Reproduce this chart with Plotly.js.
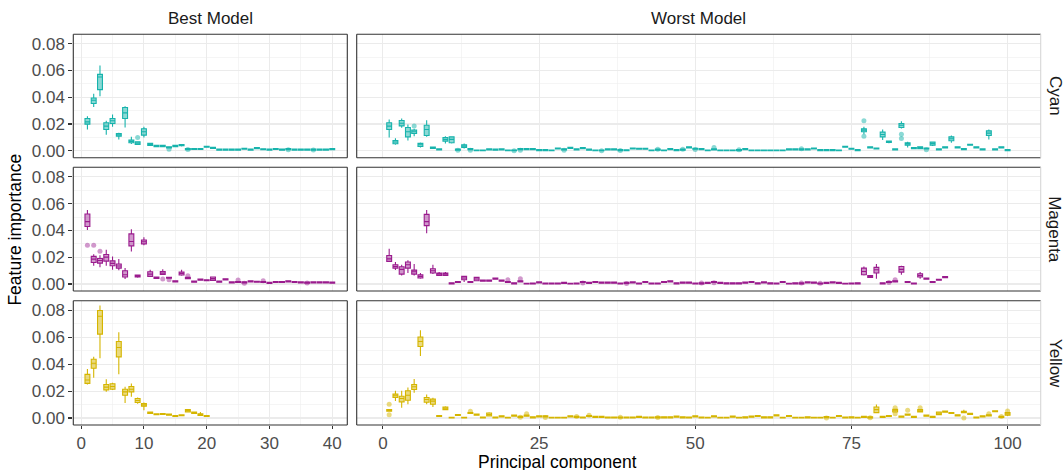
<!DOCTYPE html>
<html>
<head>
<meta charset="utf-8">
<script src="https://cdn.plot.ly/plotly-3.0.1.min.js"></script>
<style>html,body{margin:0;padding:0;background:#fff;}#chart{width:1064px;height:471px;}</style>
</head>
<body>
<div id="chart"></div>
<script>
// ---------------- DATA ----------------
// Box statistics per principal component (position = index + 1)
// Best model, Cyan (PC 1..40)
const cyanBestMed = [.0216,.0378,.0552,.0184,.0224,.0119,.0283,.0070,.0057,.0142,.0047,.0035,.0035,.0025,.0035,.0042,.0012,.0013,.0013,.0030,.0022,.0008,.0008,.0008,.0008,.0015,.0009,.0019,.0011,.0009,.0013,.0008,.0012,.0009,.0009,.0009,.0008,.0009,.0009,.0012];
const cyanBestQ1  = [.0199,.0353,.0457,.0159,.0204,.0109,.0241,.0060,.0047,.0117,.0040,.0031,.0031,.0021,.0031,.0037,.0008,.0009,.0009,.0026,.0018,.0004,.0004,.0004,.0004,.0011,.0005,.0015,.0007,.0005,.0009,.0004,.0008,.0005,.0005,.0005,.0004,.0005,.0005,.0008];
const cyanBestQ3  = [.0241,.0395,.0571,.0209,.0241,.0129,.0323,.0080,.0067,.0164,.0055,.0040,.0040,.0030,.0040,.0047,.0016,.0017,.0017,.0034,.0026,.0012,.0012,.0012,.0012,.0019,.0013,.0023,.0015,.0013,.0017,.0012,.0016,.0013,.0013,.0013,.0012,.0013,.0013,.0016];
const cyanBestWhiskPC = [1,2,3,4,5,6,7,8,9,10,11,16];
const cyanBestLo  = [.0159,.0328,.0407,.0119,.0179,.0084,.0174,.0050,.0045,.0099,.0037,.0032];
const cyanBestHi  = [.0258,.0427,.0638,.0224,.0271,.0134,.0333,.0104,.0070,.0179,.0060,.0050];
const cyanBestOutPC = [9,14,17,33,37];
const cyanBestOutVal = [.0099,.0012,.0010,.0008,.0006];

// Best model, Magenta (PC 1..40)
const magBestMed = [.0466,.0186,.0176,.0201,.0154,.0134,.0069,.0317,.0059,.0315,.0074,.0047,.0082,.0047,.0020,.0079,.0045,.0018,.0033,.0028,.0040,.0018,.0035,.0012,.0015,.0012,.0020,.0017,.0015,.0008,.0015,.0015,.0020,.0015,.0012,.0010,.0012,.0012,.0012,.0010];
const magBestQ1  = [.0429,.0161,.0156,.0171,.0136,.0119,.0052,.0285,.0052,.0300,.0057,.0042,.0072,.0043,.0016,.0067,.0039,.0014,.0029,.0024,.0027,.0014,.0031,.0008,.0011,.0008,.0016,.0013,.0011,.0004,.0011,.0011,.0016,.0011,.0008,.0006,.0008,.0008,.0008,.0006];
const magBestQ3  = [.0523,.0206,.0191,.0220,.0173,.0149,.0099,.0374,.0067,.0329,.0092,.0052,.0094,.0051,.0024,.0089,.0050,.0022,.0037,.0032,.0052,.0022,.0039,.0016,.0019,.0016,.0024,.0021,.0019,.0012,.0019,.0019,.0024,.0019,.0016,.0014,.0016,.0016,.0016,.0014];
const magBestWhiskPC = [1,2,3,4,5,6,7,8,9,10,11,13,16,21];
const magBestLo  = [.0404,.0136,.0126,.0136,.0107,.0102,.0037,.0243,.0047,.0290,.0052,.0069,.0062,.0022];
const magBestHi  = [.0552,.0223,.0215,.0255,.0206,.0186,.0119,.0409,.0072,.0349,.0107,.0111,.0107,.0057];
const magBestOutPC = [1,2,3,13,14,17,25,26,29,36];
const magBestOutVal = [.0290,.0290,.0245,.0037,.0032,.0062,.0030,.0006,.0024,.0007];

// Best model, Yellow (PC 1..20)
const yelBestMed = [.0282,.0406,.0755,.0229,.0234,.0523,.0194,.0214,.0130,.0097,.0039,.0028,.0030,.0025,.0015,.0020,.0055,.0040,.0025,.0015];
const yelBestQ1  = [.0257,.0369,.0623,.0209,.0214,.0454,.0169,.0194,.0115,.0087,.0033,.0025,.0027,.0021,.0012,.0017,.0045,.0034,.0018,.0012];
const yelBestQ3  = [.0324,.0436,.0798,.0249,.0254,.0568,.0214,.0234,.0145,.0107,.0045,.0031,.0033,.0029,.0018,.0023,.0062,.0045,.0032,.0018];
const yelBestWhiskPC = [1,2,3,4,5,6,7,8,9,10,19];
const yelBestLo  = [.0249,.0299,.0444,.0194,.0207,.0324,.0112,.0157,.0105,.0057,.0015];
const yelBestHi  = [.0364,.0454,.0835,.0287,.0262,.0636,.0232,.0257,.0152,.0115,.0045];
const yelBestOutPC = [];
const yelBestOutVal = [];

// Worst model, Cyan (PC 1..100)
const cyanWorstMed = [.0184,.0065,.0206,.0142,.0142,.0045,.0159,.0022,.0010,.0085,
 .0085,.0008,.0035,.0012,.0002,.0002,.0010,.0008,.0010,.0002,
 .0002,.0012,.0012,.0012,.0005,.0005,.0002,.0017,.0010,.0022,
 .0010,.0020,.0008,.0002,.0002,.0010,.0010,.0005,.0003,.0017,
 .0015,.0015,.0002,.0008,.0002,.0012,.0005,.0008,.0025,.0015,
 .0012,.0002,.0010,.0002,.0002,.0002,.0005,.0012,.0002,.0002,
 .0002,.0002,.0002,.0002,.0010,.0010,.0010,.0010,.0017,.0005,
 .0005,.0005,.0002,.0030,.0015,.0005,.0154,.0025,.0017,.0122,
 .0067,.0010,.0191,.0055,.0020,.0025,.0017,.0055,.0010,.0025,
 .0090,.0025,.0012,.0045,.0025,.0010,.0132,.0010,.0025,.0005];
const cyanWorstQ1 = [.0159,.0052,.0186,.0104,.0129,.0032,.0114,.0017,.0006,.0072,
 .0060,.0004,.0025,.0008,.0000,.0000,.0006,.0004,.0006,.0000,
 .0000,.0008,.0008,.0008,.0001,.0001,.0000,.0013,.0006,.0018,
 .0006,.0016,.0004,.0000,.0000,.0006,.0006,.0001,.0000,.0013,
 .0011,.0011,.0000,.0004,.0000,.0008,.0001,.0004,.0021,.0011,
 .0008,.0000,.0006,.0000,.0000,.0000,.0001,.0008,.0000,.0000,
 .0000,.0000,.0000,.0000,.0006,.0006,.0006,.0006,.0013,.0001,
 .0001,.0001,.0000,.0026,.0011,.0001,.0142,.0021,.0013,.0104,
 .0062,.0006,.0174,.0042,.0016,.0015,.0013,.0042,.0006,.0021,
 .0075,.0021,.0008,.0041,.0021,.0006,.0114,.0006,.0021,.0001];
const cyanWorstQ3 = [.0209,.0077,.0226,.0174,.0154,.0055,.0191,.0027,.0014,.0099,
 .0104,.0012,.0045,.0016,.0006,.0006,.0014,.0012,.0014,.0006,
 .0006,.0016,.0016,.0016,.0009,.0009,.0006,.0021,.0014,.0026,
 .0014,.0024,.0012,.0006,.0006,.0014,.0014,.0009,.0007,.0021,
 .0019,.0019,.0006,.0012,.0006,.0016,.0009,.0012,.0029,.0019,
 .0016,.0006,.0014,.0006,.0006,.0006,.0009,.0016,.0006,.0006,
 .0006,.0006,.0006,.0006,.0014,.0014,.0014,.0014,.0021,.0009,
 .0009,.0009,.0006,.0034,.0019,.0009,.0164,.0029,.0021,.0139,
 .0072,.0014,.0204,.0060,.0024,.0030,.0021,.0065,.0014,.0029,
 .0104,.0029,.0016,.0049,.0029,.0014,.0149,.0014,.0029,.0009];
const cyanWorstWhiskPC = [1,2,3,4,5,6,7,10,11,13,77,80,81,83,84,88,91,97];
const cyanWorstLo = [.0099,.0045,.0172,.0077,.0109,.0025,.0104,.0055,.0055,.0017,.0124,.0080,.0057,.0166,.0025,.0035,.0060,.0085];
const cyanWorstHi = [.0234,.0094,.0241,.0196,.0164,.0062,.0229,.0109,.0109,.0055,.0179,.0159,.0077,.0221,.0067,.0068,.0114,.0159];
const cyanWorstOutPC = [5,12,14,21,22,29,35,38,44,48,50,53,57,67,77,77,83,83,87];
const cyanWorstOutVal = [.0186,.0003,.0003,.0000,.0003,.0004,.0000,.0001,.0012,.0012,.0010,.0025,.0008,.0015,.0224,.0109,.0124,.0092,.0008];

// Worst model, Magenta (PC 1..90)
const magWorstMed = [.0188,.0131,.0109,.0144,.0092,.0057,.0466,.0099,.0074,.0074,
 .0005,.0015,.0045,.0015,.0037,.0025,.0025,.0040,.0025,.0015,
 .0005,.0020,.0001,.0003,.0012,.0003,.0003,.0003,.0008,.0001,
 .0003,.0015,.0008,.0015,.0010,.0010,.0010,.0003,.0008,.0012,
 .0003,.0015,.0003,.0003,.0015,.0020,.0005,.0010,.0010,.0003,
 .0005,.0008,.0015,.0008,.0005,.0005,.0005,.0010,.0015,.0005,
 .0012,.0005,.0003,.0015,.0001,.0005,.0005,.0012,.0010,.0003,
 .0008,.0012,.0008,.0001,.0003,.0005,.0094,.0057,.0107,.0005,
 .0015,.0020,.0109,.0015,.0003,.0064,.0040,.0015,.0032,.0052];
const magWorstQ1 = [.0169,.0119,.0074,.0119,.0074,.0045,.0436,.0082,.0064,.0064,
 .0001,.0011,.0032,.0011,.0025,.0021,.0021,.0036,.0021,.0011,
 .0001,.0016,.0000,.0000,.0008,.0000,.0000,.0000,.0004,.0000,
 .0000,.0011,.0004,.0011,.0006,.0006,.0006,.0000,.0004,.0008,
 .0000,.0011,.0000,.0000,.0011,.0016,.0001,.0006,.0006,.0000,
 .0001,.0004,.0011,.0004,.0001,.0001,.0001,.0006,.0011,.0001,
 .0008,.0001,.0000,.0011,.0000,.0001,.0001,.0008,.0006,.0000,
 .0004,.0008,.0004,.0000,.0000,.0001,.0069,.0050,.0082,.0001,
 .0011,.0016,.0089,.0011,.0000,.0052,.0036,.0011,.0028,.0048];
const magWorstQ3 = [.0213,.0144,.0129,.0164,.0104,.0069,.0520,.0114,.0082,.0082,
 .0009,.0019,.0057,.0019,.0050,.0029,.0029,.0044,.0029,.0019,
 .0009,.0024,.0005,.0007,.0016,.0007,.0007,.0007,.0012,.0005,
 .0007,.0019,.0012,.0019,.0014,.0014,.0014,.0007,.0012,.0016,
 .0007,.0019,.0007,.0007,.0019,.0024,.0009,.0014,.0014,.0007,
 .0009,.0012,.0019,.0012,.0009,.0009,.0009,.0014,.0019,.0009,
 .0016,.0009,.0007,.0019,.0005,.0009,.0009,.0016,.0014,.0007,
 .0012,.0016,.0012,.0005,.0007,.0009,.0119,.0064,.0124,.0009,
 .0019,.0024,.0131,.0019,.0007,.0077,.0044,.0019,.0036,.0056];
const magWorstWhiskPC = [1,2,3,4,5,6,7,8,9,10,13,15,77,78,79,83,86];
const magWorstLo = [.0164,.0104,.0064,.0082,.0064,.0040,.0379,.0074,.0060,.0060,.0015,.0022,.0064,.0045,.0040,.0069,.0040];
const magWorstHi = [.0263,.0164,.0144,.0178,.0149,.0082,.0553,.0144,.0089,.0089,.0062,.0052,.0131,.0066,.0149,.0136,.0089];
const magWorstOutPC = [20,22,32,39,51,53,67,70,81,82];
const magWorstOutVal = [.0032,.0040,.0008,.0004,.0008,.0010,.0008,.0005,.0012,.0032];

// Worst model, Yellow (PC 1..100)
const yelWorstMed = [.0057,.0165,.0145,.0169,.0232,.0568,.0137,.0125,.0015,.0072,
 .0002,.0022,.0002,.0037,.0025,.0003,.0025,.0003,.0012,.0002,
 .0017,.0008,.0017,.0005,.0012,.0012,.0002,.0002,.0002,.0012,
 .0008,.0003,.0015,.0008,.0008,.0003,.0003,.0003,.0003,.0003,
 .0008,.0003,.0003,.0005,.0005,.0005,.0010,.0005,.0003,.0012,
 .0003,.0002,.0012,.0002,.0002,.0010,.0002,.0005,.0010,.0015,
 .0005,.0005,.0020,.0002,.0015,.0002,.0002,.0005,.0002,.0002,
 .0007,.0002,.0015,.0003,.0005,.0002,.0008,.0005,.0062,.0008,
 .0015,.0057,.0010,.0025,.0008,.0052,.0017,.0008,.0035,.0047,
 .0037,.0020,.0045,.0030,.0003,.0012,.0020,.0050,.0008,.0030];
const yelWorstQ1 = [.0050,.0152,.0120,.0132,.0212,.0531,.0117,.0102,.0011,.0062,
 .0000,.0018,.0000,.0033,.0021,.0000,.0015,.0000,.0008,.0000,
 .0013,.0004,.0013,.0001,.0008,.0008,.0000,.0000,.0000,.0008,
 .0004,.0000,.0011,.0004,.0004,.0000,.0000,.0000,.0000,.0000,
 .0004,.0000,.0000,.0001,.0001,.0001,.0006,.0001,.0000,.0008,
 .0000,.0000,.0008,.0000,.0000,.0006,.0000,.0001,.0006,.0011,
 .0001,.0001,.0016,.0000,.0011,.0000,.0000,.0001,.0000,.0000,
 .0003,.0000,.0011,.0000,.0001,.0000,.0004,.0001,.0040,.0004,
 .0011,.0045,.0006,.0020,.0004,.0045,.0013,.0004,.0025,.0043,
 .0033,.0015,.0040,.0026,.0000,.0008,.0016,.0046,.0004,.0020];
const yelWorstQ3 = [.0062,.0177,.0162,.0202,.0249,.0601,.0152,.0140,.0019,.0082,
 .0006,.0026,.0006,.0041,.0029,.0007,.0037,.0007,.0016,.0006,
 .0021,.0012,.0021,.0009,.0016,.0016,.0006,.0006,.0006,.0016,
 .0012,.0007,.0019,.0012,.0012,.0007,.0007,.0007,.0007,.0007,
 .0012,.0007,.0007,.0009,.0009,.0009,.0014,.0009,.0007,.0016,
 .0007,.0006,.0016,.0006,.0006,.0014,.0006,.0009,.0014,.0019,
 .0009,.0009,.0024,.0006,.0019,.0006,.0006,.0009,.0006,.0006,
 .0011,.0006,.0019,.0007,.0009,.0006,.0012,.0009,.0082,.0012,
 .0019,.0065,.0014,.0030,.0012,.0062,.0021,.0012,.0045,.0051,
 .0041,.0024,.0050,.0034,.0007,.0016,.0024,.0054,.0012,.0040];
const yelWorstWhiskPC = [1,2,3,4,5,6,7,8,10,17,79,82,86,93,100];
const yelWorstLo = [.0048,.0127,.0077,.0102,.0187,.0461,.0102,.0082,.0057,.0012,.0037,.0040,.0040,.0035,.0015];
const yelWorstHi = [.0064,.0202,.0202,.0227,.0289,.0651,.0174,.0150,.0087,.0042,.0100,.0068,.0065,.0062,.0045];
const yelWorstOutPC = [1,1,14,22,23,26,31,33,38,44,71,78,82,82,84,86,93,97,99,100];
const yelWorstOutVal = [.0102,.0025,.0050,.0005,.0032,.0003,.0012,.0020,.0005,.0003,.0000,.0002,.0077,.0032,.0057,.0077,.0000,.0032,.0012,.0052];

const colLabels = ['Best Model', 'Worst Model'];
const rowLabels = ['Cyan', 'Magenta', 'Yellow'];
const yTicks = [0, 0.02, 0.04, 0.06, 0.08];
const xTicksBest = [0, 10, 20, 30, 40];
const xTicksWorst = [0, 25, 50, 75, 100];

// ---------------- STYLE ----------------
const COLORS = {
  Cyan:    {line: '#17B3AC', fill: 'rgba(23,179,172,0.5)', pt: 'rgba(23,179,172,0.5)'},
  Magenta: {line: '#9A1B8D', fill: 'rgba(154,27,141,0.45)', pt: 'rgba(154,27,141,0.45)'},
  Yellow:  {line: '#D5B500', fill: 'rgba(213,181,0,0.5)', pt: 'rgba(213,181,0,0.5)'}
};
const W = 1064, H = 471;
const colPx = [[73.3, 347.3], [356.7, 1040.7]];
const rowPx = [[34.3, 157.7], [167.3, 291.0], [300.7, 425.0]];
const xRanges = [[-1.25, 42.4], [-4.2, 105.3]];
const yRange = [-0.0052, 0.0871];
const FONT = 'Liberation Sans, Arial, Helvetica, sans-serif';

function boxTrace(med, q1, q3, wPC, wLo, wHi, xa, ya, c) {
  const x = med.map((_, i) => i + 1);
  const lo = q1.slice(), hi = q3.slice();
  wPC.forEach((p, j) => { lo[p - 1] = wLo[j]; hi[p - 1] = wHi[j]; });
  return {
    type: 'box', orientation: 'v', x: x, q1: q1, median: med, q3: q3,
    lowerfence: lo, upperfence: hi, xaxis: xa, yaxis: ya,
    width: 0.78, whiskerwidth: 0, boxpoints: false,
    line: {color: c.line, width: 1.1}, fillcolor: c.fill,
    hoverinfo: 'skip', showlegend: false
  };
}
function outTrace(px, vals, xa, ya, c) {
  return {type: 'scatter', mode: 'markers', x: px, y: vals, xaxis: xa, yaxis: ya,
    marker: {size: 5, color: c.pt, line: {width: 0}}, hoverinfo: 'skip', showlegend: false};
}

const panels = [
  // [row, col, med, q1, q3, wPC, wLo, wHi, outPC, outVal, colorName]
  [0, 0, cyanBestMed, cyanBestQ1, cyanBestQ3, cyanBestWhiskPC, cyanBestLo, cyanBestHi, cyanBestOutPC, cyanBestOutVal, 'Cyan'],
  [0, 1, cyanWorstMed, cyanWorstQ1, cyanWorstQ3, cyanWorstWhiskPC, cyanWorstLo, cyanWorstHi, cyanWorstOutPC, cyanWorstOutVal, 'Cyan'],
  [1, 0, magBestMed, magBestQ1, magBestQ3, magBestWhiskPC, magBestLo, magBestHi, magBestOutPC, magBestOutVal, 'Magenta'],
  [1, 1, magWorstMed, magWorstQ1, magWorstQ3, magWorstWhiskPC, magWorstLo, magWorstHi, magWorstOutPC, magWorstOutVal, 'Magenta'],
  [2, 0, yelBestMed, yelBestQ1, yelBestQ3, yelBestWhiskPC, yelBestLo, yelBestHi, yelBestOutPC, yelBestOutVal, 'Yellow'],
  [2, 1, yelWorstMed, yelWorstQ1, yelWorstQ3, yelWorstWhiskPC, yelWorstLo, yelWorstHi, yelWorstOutPC, yelWorstOutVal, 'Yellow']
];

const traces = [];
const layout = {
  width: W, height: H, margin: {l: 0, r: 0, t: 0, b: 0},
  paper_bgcolor: '#FFFFFF', plot_bgcolor: '#FFFFFF',
  font: {family: FONT, size: 17, color: '#4D4D4D'},
  showlegend: false, shapes: [], annotations: []
};
const fx = p => p / W, fy = p => 1 - p / H;

panels.forEach((p, i) => {
  const [r, c] = p;
  const n = i + 1;
  const xa = 'x' + (n === 1 ? '' : n), ya = 'y' + (n === 1 ? '' : n);
  const col = COLORS[p[10]];
  traces.push(outTrace(p[8], p[9], xa, ya, col));
  traces.push(boxTrace(p[2], p[3], p[4], p[5], p[6], p[7], xa, ya, col));
  const bottom = r === 2, left = c === 0;
  layout['xaxis' + (n === 1 ? '' : n)] = {
    domain: [fx(colPx[c][0]), fx(colPx[c][1])], range: xRanges[c], anchor: ya,
    tickvals: c === 0 ? xTicksBest : xTicksWorst, showticklabels: bottom,
    ticks: bottom ? 'outside' : '', ticklen: 3, tickwidth: 1.1, tickcolor: '#333333',
    tickfont: {size: 17, color: '#4D4D4D', family: FONT},
    showgrid: true, gridcolor: '#EBEBEB', gridwidth: 1.1, zeroline: false, showline: false,
    minor: {dtick: c === 0 ? 5 : 12.5, tick0: 0, showgrid: true, gridcolor: '#EFEFEF', gridwidth: 0.6, ticks: ''},
    fixedrange: true
  };
  layout['yaxis' + (n === 1 ? '' : n)] = {
    domain: [fy(rowPx[r][1]), fy(rowPx[r][0])], range: yRange, anchor: xa,
    tickvals: yTicks, tickformat: '.2f', showticklabels: left,
    ticks: left ? 'outside' : '', ticklen: 4, tickwidth: 1.1, tickcolor: '#333333',
    tickfont: {size: 17, color: '#4D4D4D', family: FONT},
    showgrid: true, gridcolor: '#EBEBEB', gridwidth: 1.1, zeroline: false, showline: false,
    minor: {dtick: 0.01, tick0: 0, showgrid: true, gridcolor: '#EFEFEF', gridwidth: 0.6, ticks: ''},
    fixedrange: true
  };
  // panel border
  const x0 = fx(colPx[c][0]), x1 = fx(colPx[c][1]);
  const y0 = fy(rowPx[r][1]), y1 = fy(rowPx[r][0]);
  const dark = {color: '#333333', width: 1.1};
  const seg = (a, b, cc, d, ln) => layout.shapes.push({type: 'line', xref: 'paper', yref: 'paper', x0: a, y0: b, x1: cc, y1: d, line: ln, layer: 'above'});
  seg(x0, y0, x1, y0, dark);
  seg(x0, y1, x1, y1, dark);
  seg(x0, y0, x0, y1, dark);
  seg(x1, y0, x1, y1, c === 0 ? dark : {color: '#D6D6D6', width: 1.1});
});

// strip labels
colLabels.forEach((t, c) => layout.annotations.push({
  text: t, xref: 'paper', yref: 'paper', x: fx((colPx[c][0] + colPx[c][1]) / 2), y: fy(19),
  showarrow: false, xanchor: 'center', yanchor: 'middle', font: {size: 17, color: '#1A1A1A', family: FONT}
}));
rowLabels.forEach((t, r) => layout.annotations.push({
  text: t, xref: 'paper', yref: 'paper', x: fx(1055), y: fy((rowPx[r][0] + rowPx[r][1]) / 2),
  showarrow: false, xanchor: 'center', yanchor: 'middle', textangle: 90, font: {size: 17, color: '#1A1A1A', family: FONT}
}));
// axis titles
layout.annotations.push({
  text: 'Principal component', xref: 'paper', yref: 'paper', x: fx(557), y: fy(461.5),
  showarrow: false, xanchor: 'center', yanchor: 'middle', height: 16, borderpad: 0,
  font: {size: 17.5, color: '#000000', family: FONT}
});
layout.annotations.push({
  text: 'Feature importance', xref: 'paper', yref: 'paper', x: fx(15), y: fy(229.6),
  showarrow: false, xanchor: 'center', yanchor: 'middle', textangle: -90, font: {size: 17.5, color: '#000000', family: FONT}
});

Plotly.newPlot('chart', traces, layout, {staticPlot: true, displayModeBar: false});
</script>
</body>
</html>
